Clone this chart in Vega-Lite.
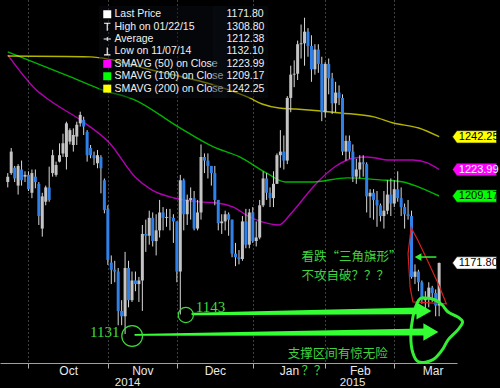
{
"$schema":"https://vega.github.io/schema/vega-lite/v6.json",
"width":457,"height":363,
"autosize":{"type":"none"},
"padding":{"left":0,"top":0,"right":43,"bottom":25},
"background":"#000000",
"config":{"view":{"fill":{"gradient":"linear","x1":0,"y1":0,"x2":0.3,"y2":1,"stops":[{"offset":0,"color":"#1e2a37"},{"offset":1,"color":"#0a0f15"}]},"stroke":null},"font":"Liberation Sans"},
"resolve":{"axis":{"x":"independent"}},
"datasets":{
"candles":[
{"d":"2014-09-22","i":0,"o":1217,"h":1222,"l":1214,"c":1220},
{"d":"2014-09-23","i":1,"o":1222,"h":1236,"l":1221,"c":1234},
{"d":"2014-09-24","i":2,"o":1225,"h":1226,"l":1217,"c":1219},
{"d":"2014-09-25","i":3,"o":1215,"h":1227,"l":1210,"c":1226},
{"d":"2014-09-26","i":4,"o":1224,"h":1229,"l":1215,"c":1218},
{"d":"2014-09-29","i":5,"o":1220,"h":1223,"l":1217,"c":1221},
{"d":"2014-09-30","i":6,"o":1221,"h":1223,"l":1212,"c":1213},
{"d":"2014-10-01","i":7,"o":1211,"h":1224,"l":1208,"c":1222},
{"d":"2014-10-02","i":8,"o":1220,"h":1224,"l":1213.5,"c":1217},
{"d":"2014-10-03","i":9,"o":1216,"h":1217,"l":1193,"c":1198},
{"d":"2014-10-06","i":10,"o":1191,"h":1211,"l":1186.5,"c":1209},
{"d":"2014-10-07","i":11,"o":1206,"h":1215,"l":1204,"c":1214},
{"d":"2014-10-08","i":12,"o":1214,"h":1225.6,"l":1206,"c":1207},
{"d":"2014-10-09","i":13,"o":1222,"h":1235,"l":1220,"c":1232},
{"d":"2014-10-10","i":14,"o":1221,"h":1228.4,"l":1220,"c":1226.5},
{"d":"2014-10-13","i":15,"o":1228.4,"h":1238.6,"l":1228,"c":1232},
{"d":"2014-10-14","i":16,"o":1233,"h":1244,"l":1231,"c":1238.6},
{"d":"2014-10-15","i":17,"o":1231,"h":1250.7,"l":1224,"c":1249.8},
{"d":"2014-10-16","i":18,"o":1239.6,"h":1247,"l":1238,"c":1246},
{"d":"2014-10-17","i":19,"o":1237.7,"h":1247,"l":1234,"c":1243.3},
{"d":"2014-10-20","i":20,"o":1242.4,"h":1250.7,"l":1237.7,"c":1249},
{"d":"2014-10-21","i":21,"o":1249.8,"h":1256.3,"l":1248,"c":1254.5},
{"d":"2014-10-22","i":22,"o":1251.7,"h":1253.5,"l":1243.3,"c":1248},
{"d":"2014-10-23","i":23,"o":1245,"h":1246,"l":1228.4,"c":1232},
{"d":"2014-10-24","i":24,"o":1236,"h":1237.7,"l":1230.3,"c":1232},
{"d":"2014-10-27","i":25,"o":1232,"h":1234,"l":1226.5,"c":1230.3},
{"d":"2014-10-28","i":26,"o":1227.5,"h":1234.9,"l":1224.7,"c":1232},
{"d":"2014-10-29","i":27,"o":1231,"h":1232,"l":1210.7,"c":1224.7},
{"d":"2014-10-30","i":28,"o":1218,"h":1219,"l":1199.5,"c":1201.4},
{"d":"2014-10-31","i":29,"o":1202,"h":1204,"l":1170.7,"c":1173.5},
{"d":"2014-11-03","i":30,"o":1172,"h":1176,"l":1160,"c":1168},
{"d":"2014-11-04","i":31,"o":1168,"h":1173,"l":1161,"c":1167},
{"d":"2014-11-05","i":32,"o":1167,"h":1169,"l":1137,"c":1145},
{"d":"2014-11-06","i":33,"o":1145,"h":1151,"l":1137,"c":1142},
{"d":"2014-11-07","i":34,"o":1142,"h":1178,"l":1132.1,"c":1169},
{"d":"2014-11-10","i":35,"o":1169,"h":1173,"l":1147,"c":1151},
{"d":"2014-11-11","i":36,"o":1151,"h":1167,"l":1150,"c":1162},
{"d":"2014-11-12","i":37,"o":1162,"h":1167,"l":1156,"c":1160},
{"d":"2014-11-13","i":38,"o":1160,"h":1164,"l":1150,"c":1162},
{"d":"2014-11-14","i":39,"o":1162,"h":1193,"l":1145,"c":1188},
{"d":"2014-11-17","i":40,"o":1188,"h":1196,"l":1178,"c":1187},
{"d":"2014-11-18","i":41,"o":1187,"h":1201,"l":1182,"c":1197},
{"d":"2014-11-19","i":42,"o":1197,"h":1200,"l":1181,"c":1184},
{"d":"2014-11-20","i":43,"o":1184,"h":1199,"l":1176,"c":1190},
{"d":"2014-11-21","i":44,"o":1190,"h":1207,"l":1186,"c":1200},
{"d":"2014-11-24","i":45,"o":1200,"h":1203,"l":1190,"c":1197},
{"d":"2014-11-25","i":46,"o":1197,"h":1202,"l":1192,"c":1197.5},
{"d":"2014-11-26","i":47,"o":1197.5,"h":1202,"l":1190,"c":1197},
{"d":"2014-11-27","i":48,"o":1197,"h":1199,"l":1183,"c":1195},
{"d":"2014-11-28","i":49,"o":1195,"h":1195,"l":1161,"c":1167},
{"d":"2014-12-01","i":50,"o":1167,"h":1221,"l":1143,"c":1218},
{"d":"2014-12-02","i":51,"o":1218,"h":1219,"l":1190,"c":1199},
{"d":"2014-12-03","i":52,"o":1199,"h":1210,"l":1193,"c":1207},
{"d":"2014-12-04","i":53,"o":1207,"h":1214,"l":1196,"c":1208},
{"d":"2014-12-05","i":54,"o":1208,"h":1212,"l":1190,"c":1191},
{"d":"2014-12-08","i":55,"o":1191,"h":1207,"l":1190,"c":1200},
{"d":"2014-12-09","i":56,"o":1200,"h":1238,"l":1196,"c":1231},
{"d":"2014-12-10","i":57,"o":1231,"h":1233,"l":1222,"c":1229},
{"d":"2014-12-11","i":58,"o":1229,"h":1233,"l":1219,"c":1226},
{"d":"2014-12-12","i":59,"o":1226,"h":1226,"l":1215,"c":1222},
{"d":"2014-12-15","i":60,"o":1222,"h":1226,"l":1204,"c":1207},
{"d":"2014-12-16","i":61,"o":1207,"h":1207,"l":1190,"c":1194},
{"d":"2014-12-17","i":62,"o":1194,"h":1199,"l":1188,"c":1195},
{"d":"2014-12-18","i":63,"o":1195,"h":1201,"l":1190,"c":1199},
{"d":"2014-12-19","i":64,"o":1199,"h":1200,"l":1187,"c":1196},
{"d":"2014-12-22","i":65,"o":1196,"h":1196,"l":1175,"c":1177},
{"d":"2014-12-23","i":66,"o":1177,"h":1183,"l":1170,"c":1175},
{"d":"2014-12-24","i":67,"o":1175,"h":1179,"l":1171,"c":1174},
{"d":"2014-12-26","i":68,"o":1174,"h":1198,"l":1173,"c":1195},
{"d":"2014-12-29","i":69,"o":1195,"h":1202,"l":1180,"c":1182},
{"d":"2014-12-30","i":70,"o":1182,"h":1202,"l":1180,"c":1200},
{"d":"2014-12-31","i":71,"o":1200,"h":1203,"l":1183,"c":1184},
{"d":"2015-01-02","i":72,"o":1184,"h":1195,"l":1181,"c":1186},
{"d":"2015-01-05","i":73,"o":1186,"h":1207,"l":1185,"c":1204},
{"d":"2015-01-06","i":74,"o":1204,"h":1223,"l":1203,"c":1219},
{"d":"2015-01-07","i":75,"o":1219,"h":1222,"l":1207,"c":1211},
{"d":"2015-01-08","i":76,"o":1211,"h":1214,"l":1203,"c":1208},
{"d":"2015-01-09","i":77,"o":1208,"h":1223,"l":1203,"c":1216},
{"d":"2015-01-12","i":78,"o":1216,"h":1233,"l":1216,"c":1232},
{"d":"2015-01-13","i":79,"o":1232,"h":1246,"l":1225,"c":1234},
{"d":"2015-01-14","i":80,"o":1234,"h":1243,"l":1224,"c":1229},
{"d":"2015-01-15","i":81,"o":1229,"h":1265,"l":1227,"c":1264},
{"d":"2015-01-16","i":82,"o":1264,"h":1282,"l":1256,"c":1277},
{"d":"2015-01-19","i":83,"o":1277,"h":1285,"l":1270,"c":1277.5},
{"d":"2015-01-20","i":84,"o":1277.5,"h":1296,"l":1274,"c":1294},
{"d":"2015-01-21","i":85,"o":1294,"h":1305,"l":1286,"c":1294.5},
{"d":"2015-01-22","i":86,"o":1294.5,"h":1308.8,"l":1282,"c":1301},
{"d":"2015-01-23","i":87,"o":1301,"h":1303,"l":1287,"c":1293},
{"d":"2015-01-26","i":88,"o":1293,"h":1299,"l":1273,"c":1280},
{"d":"2015-01-27","i":89,"o":1280,"h":1294,"l":1277,"c":1291},
{"d":"2015-01-28","i":90,"o":1291,"h":1294,"l":1278,"c":1283},
{"d":"2015-01-29","i":91,"o":1283,"h":1287,"l":1251,"c":1256},
{"d":"2015-01-30","i":92,"o":1256,"h":1284,"l":1253,"c":1283},
{"d":"2015-02-02","i":93,"o":1283,"h":1286,"l":1266,"c":1275},
{"d":"2015-02-03","i":94,"o":1275,"h":1278,"l":1255,"c":1261},
{"d":"2015-02-04","i":95,"o":1261,"h":1273,"l":1256,"c":1267},
{"d":"2015-02-05","i":96,"o":1267,"h":1271,"l":1260,"c":1264},
{"d":"2015-02-06","i":97,"o":1264,"h":1266,"l":1232,"c":1234},
{"d":"2015-02-09","i":98,"o":1234,"h":1243,"l":1229,"c":1240},
{"d":"2015-02-10","i":99,"o":1240,"h":1243,"l":1230,"c":1234},
{"d":"2015-02-11","i":100,"o":1234,"h":1238,"l":1217,"c":1220},
{"d":"2015-02-12","i":101,"o":1220,"h":1230,"l":1216,"c":1224},
{"d":"2015-02-13","i":102,"o":1224,"h":1232,"l":1219,"c":1228},
{"d":"2015-02-16","i":103,"o":1228,"h":1232,"l":1220,"c":1227},
{"d":"2015-02-17","i":104,"o":1227,"h":1228,"l":1200,"c":1209},
{"d":"2015-02-18","i":105,"o":1209,"h":1213,"l":1197,"c":1211},
{"d":"2015-02-19","i":106,"o":1211,"h":1213,"l":1196,"c":1207},
{"d":"2015-02-20","i":107,"o":1207,"h":1212,"l":1192,"c":1204},
{"d":"2015-02-23","i":108,"o":1204,"h":1205,"l":1195,"c":1198},
{"d":"2015-02-24","i":109,"o":1198,"h":1212,"l":1191,"c":1201},
{"d":"2015-02-25","i":110,"o":1201,"h":1218,"l":1199,"c":1210},
{"d":"2015-02-26","i":111,"o":1210,"h":1219,"l":1198,"c":1205},
{"d":"2015-02-27","i":112,"o":1205,"h":1218,"l":1203,"c":1213},
{"d":"2015-03-02","i":113,"o":1213,"h":1223,"l":1206,"c":1208},
{"d":"2015-03-03","i":114,"o":1208,"h":1214,"l":1198,"c":1203},
{"d":"2015-03-04","i":115,"o":1203,"h":1205,"l":1191,"c":1199},
{"d":"2015-03-05","i":116,"o":1199,"h":1207,"l":1196,"c":1198},
{"d":"2015-03-06","i":117,"o":1198,"h":1201,"l":1163,"c":1164},
{"d":"2015-03-09","i":118,"o":1164,"h":1171,"l":1160,"c":1167},
{"d":"2015-03-10","i":119,"o":1167,"h":1168,"l":1156,"c":1161},
{"d":"2015-03-11","i":120,"o":1161,"h":1162,"l":1149,"c":1151},
{"d":"2015-03-12","i":121,"o":1151,"h":1156,"l":1146,"c":1152},
{"d":"2015-03-13","i":122,"o":1152,"h":1161,"l":1147,"c":1158},
{"d":"2015-03-16","i":123,"o":1158,"h":1159,"l":1150,"c":1155},
{"d":"2015-03-17","i":124,"o":1155,"h":1157,"l":1142,"c":1148},
{"d":"2015-03-18","i":125,"o":1148,"h":1172,"l":1142,"c":1171.8}
],
"sma":[
{"name":"SMAVG (50) on Close","i":0,"v":1288},
{"name":"SMAVG (50) on Close","i":8.3,"v":1268.4},
{"name":"SMAVG (50) on Close","i":12,"v":1262.8},
{"name":"SMAVG (50) on Close","i":21.9,"v":1250.6},
{"name":"SMAVG (50) on Close","i":29.5,"v":1238.8},
{"name":"SMAVG (50) on Close","i":36.9,"v":1219.8},
{"name":"SMAVG (50) on Close","i":41.7,"v":1212.6},
{"name":"SMAVG (50) on Close","i":48.2,"v":1208.1},
{"name":"SMAVG (50) on Close","i":55.9,"v":1205.9},
{"name":"SMAVG (50) on Close","i":60.7,"v":1205.3},
{"name":"SMAVG (50) on Close","i":65.2,"v":1203.1},
{"name":"SMAVG (50) on Close","i":70.1,"v":1197.5},
{"name":"SMAVG (50) on Close","i":73.7,"v":1194.7},
{"name":"SMAVG (50) on Close","i":78.6,"v":1193.0},
{"name":"SMAVG (50) on Close","i":82.2,"v":1199.7},
{"name":"SMAVG (50) on Close","i":89.0,"v":1215.4},
{"name":"SMAVG (50) on Close","i":94.7,"v":1225.4},
{"name":"SMAVG (50) on Close","i":100.4,"v":1230.4},
{"name":"SMAVG (50) on Close","i":104.1,"v":1231.0},
{"name":"SMAVG (50) on Close","i":110.6,"v":1229.3},
{"name":"SMAVG (50) on Close","i":117.4,"v":1229.3},
{"name":"SMAVG (50) on Close","i":121.6,"v":1227.7},
{"name":"SMAVG (50) on Close","i":125,"v":1224.0},
{"name":"SMAVG (100) on Close","i":0,"v":1289.7},
{"name":"SMAVG (100) on Close","i":18.2,"v":1275.7},
{"name":"SMAVG (100) on Close","i":27.5,"v":1268.4},
{"name":"SMAVG (100) on Close","i":36.9,"v":1262.8},
{"name":"SMAVG (100) on Close","i":49.4,"v":1247.8},
{"name":"SMAVG (100) on Close","i":59.6,"v":1236.6},
{"name":"SMAVG (100) on Close","i":67.2,"v":1231.0},
{"name":"SMAVG (100) on Close","i":74.9,"v":1222.1},
{"name":"SMAVG (100) on Close","i":80.5,"v":1217.0},
{"name":"SMAVG (100) on Close","i":87.9,"v":1217.0},
{"name":"SMAVG (100) on Close","i":98.4,"v":1219.3},
{"name":"SMAVG (100) on Close","i":107.8,"v":1218.2},
{"name":"SMAVG (100) on Close","i":114.6,"v":1217.0},
{"name":"SMAVG (100) on Close","i":119.1,"v":1214.2},
{"name":"SMAVG (100) on Close","i":125,"v":1209.2},
{"name":"SMAVG (200) on Close","i":0,"v":1287.4},
{"name":"SMAVG (200) on Close","i":23.9,"v":1286.9},
{"name":"SMAVG (200) on Close","i":41.7,"v":1279.6},
{"name":"SMAVG (200) on Close","i":61.6,"v":1270.1},
{"name":"SMAVG (200) on Close","i":70.1,"v":1264.0},
{"name":"SMAVG (200) on Close","i":73.7,"v":1260.6},
{"name":"SMAVG (200) on Close","i":78.6,"v":1258.4},
{"name":"SMAVG (200) on Close","i":83.4,"v":1257.8},
{"name":"SMAVG (200) on Close","i":96.4,"v":1255.6},
{"name":"SMAVG (200) on Close","i":106.1,"v":1253.4},
{"name":"SMAVG (200) on Close","i":111.7,"v":1250.0},
{"name":"SMAVG (200) on Close","i":119.1,"v":1247.2},
{"name":"SMAVG (200) on Close","i":125,"v":1242.3}
],
"loop":[
{"k":0,"i":119.1,"p":1151.1},{"k":1,"i":117.4,"p":1141.6},{"k":2,"i":116.8,"p":1130.4},{"k":3,"i":117.4,"p":1121.5},
{"k":4,"i":119.1,"p":1116.5},{"k":5,"i":123.1,"p":1117.6},{"k":6,"i":125.9,"p":1123.2},{"k":7,"i":127.6,"p":1128.8},
{"k":8,"i":130.4,"p":1134.4},{"k":9,"i":131.8,"p":1138.8},{"k":10,"i":130.4,"p":1141.6},{"k":11,"i":127.6,"p":1144.4},
{"k":12,"i":125.9,"p":1148.3},{"k":13,"i":123.9,"p":1151.1},{"k":14,"i":121.1,"p":1152.2}
],
"pennant":[
{"k":0,"i":116.9,"p":1191.5},{"k":1,"i":116.0,"p":1177},{"k":2,"i":116.6,"p":1158},{"k":3,"i":117.4,"p":1150},
{"k":4,"i":127.1,"p":1149},{"k":5,"i":124.9,"p":1159.5},{"k":6,"i":121.8,"p":1172.5},{"k":7,"i":118.8,"p":1184.6}
],
"arrows":[
{"a":"low","i":36.9,"p":1131.6},{"a":"low","i":120.5,"p":1133.2},
{"a":"high","i":53.6,"p":1143.3},{"a":"high","i":118.8,"p":1145.0}
],
"heads":[{"i":122.6,"p":1133.2},{"i":120.6,"p":1145.0}],
"notes":[
{"t":"看跌“三角旗形”","i":85.1,"p":1175.3},
{"t":"不攻自破？？？","i":85.1,"p":1164.7},
{"t":"支撑区间有惊无险","i":81.1,"p":1121.2},
{"t":"？？","i":85.1,"p":1111.3}
],
"tags":[
{"name":"SMAVG (200) on Close","v":1242.25,"label":"1242.25"},
{"name":"SMAVG (50) on Close","v":1223.99,"label":"1223.99"},
{"name":"SMAVG (100) on Close","v":1209.17,"label":"1209.17"},
{"name":"Last Price","v":1171.8,"label":"1171.80"}
],
"legendrows":[
{"name":"Last Price","val":"1171.80"},
{"name":"High on 01/22/15","val":"1308.80"},
{"name":"Average","val":"1212.38"},
{"name":"Low on 11/07/14","val":"1132.10"},
{"name":"SMAVG (50) on Close","val":"1223.99"},
{"name":"SMAVG (100) on Close","val":"1209.17"},
{"name":"SMAVG (200) on Close","val":"1242.25"}
]
},
"layer":[
{"data":{"name":"sma"},
 "mark":{"type":"line","interpolate":"monotone","strokeWidth":1.4,"opacity":0.7},
 "encoding":{
  "x":{"field":"i","type":"quantitative","scale":{"domain":[-0.8,128.73],"nice":false,"zero":false},
       "axis":{"orient":"bottom","values":[17.5,39,60,81.5,102,123.1],"labelExpr":"datum.value < 25 ? 'Oct' : datum.value < 50 ? 'Nov' : datum.value < 70 ? 'Dec' : datum.value < 90 ? 'Jan' : datum.value < 110 ? 'Feb' : 'Mar'","domain":false,"ticks":false,"grid":false,"labelColor":"#e8e8e8","labelFontSize":12,"labelFont":"Liberation Sans","labelPadding":2,"title":null}},
  "y":{"field":"v","type":"quantitative","scale":{"domain":[1115.9,1318.7],"nice":false,"zero":false},"axis":null},
  "color":{"field":"name","type":"nominal","scale":{"domain":["Last Price","SMAVG (50) on Close","SMAVG (100) on Close","SMAVG (200) on Close"],"range":["#ffffff","#ff00ff","#00ff00","#ffff00"]},"legend":null}
 }},
{"data":{"name":"candles"},
 "mark":{"type":"rule","color":"#d8d8d8","strokeWidth":1},
 "encoding":{
  "x":{"field":"i","type":"quantitative","scale":{"domain":[-0.8,128.73],"nice":false,"zero":false},
       "axis":{"orient":"bottom","values":[6,29,49,71,92,112],"grid":true,"gridColor":"#b0b6bd","gridDash":[1,3],"gridOpacity":0.7,"labels":false,"ticks":true,"tickSize":5,"tickColor":"#b0b0b0","domainColor":"#a0a0a0","title":null}},
  "y":{"field":"l","type":"quantitative","scale":{"domain":[1115.9,1318.7],"nice":false,"zero":false},
       "axis":{"orient":"right","values":[1125,1150,1175,1200,1225,1250,1275,1300],"labelExpr":"datum.value % 50 === 0 ? datum.label : ''","format":"d","grid":true,"gridColor":"#b0b6bd","gridDash":[1,3],"gridOpacity":{"condition":{"test":"datum.value % 50 === 0","value":0.7},"value":0},"tickSize":{"condition":{"test":"datum.value % 50 === 0","value":6},"value":3},"tickWidth":{"condition":{"test":"datum.value % 50 === 0","value":2},"value":1},"tickColor":"#e0e0e0","domainColor":"#a0a0a0","labelColor":"#ffffff","labelFontSize":12,"labelFont":"Liberation Sans","labelPadding":2,"title":null}},
  "y2":{"field":"h"}
 }},
{"data":{"name":"candles"},
 "mark":{"type":"bar","size":3},
 "encoding":{
  "x":{"field":"i","type":"quantitative","scale":{"domain":[-0.8,128.73],"nice":false,"zero":false},"axis":null},
  "y":{"field":"o","type":"quantitative","scale":{"domain":[1115.9,1318.7],"nice":false,"zero":false},"axis":null},
  "y2":{"field":"c"},
  "color":{"condition":{"test":"datum.c >= datum.o","value":"#c4c4c4"},"value":"#2f80e8"}
 }},
{"data":{"name":"pennant"},
 "mark":{"type":"line","interpolate":"linear-closed","color":"#d42020","strokeWidth":1.2,"clip":false},
 "encoding":{
  "x":{"field":"i","type":"quantitative","scale":{"domain":[-0.8,128.73],"nice":false,"zero":false},"axis":null},
  "y":{"field":"p","type":"quantitative","scale":{"domain":[1115.9,1318.7],"nice":false,"zero":false},"axis":null},
  "order":{"field":"k","type":"quantitative"}
 }},
{"data":{"name":"loop"},
 "mark":{"type":"line","interpolate":"cardinal-closed","color":"#33ee33","strokeWidth":3,"clip":false},
 "encoding":{
  "x":{"field":"i","type":"quantitative","scale":{"domain":[-0.8,128.73],"nice":false,"zero":false},"axis":null},
  "y":{"field":"p","type":"quantitative","scale":{"domain":[1115.9,1318.7],"nice":false,"zero":false},"axis":null},
  "order":{"field":"k","type":"quantitative"}
 }},
{"data":{"name":"arrows"},
 "mark":{"type":"trail","color":"#33ff33","clip":false},
 "encoding":{
  "x":{"field":"i","type":"quantitative","scale":{"domain":[-0.8,128.73],"nice":false,"zero":false},"axis":null},
  "y":{"field":"p","type":"quantitative","scale":{"domain":[1115.9,1318.7],"nice":false,"zero":false},"axis":null},
  "detail":{"field":"a"},
  "size":{"field":"i","type":"quantitative","scale":{"domain":[36,121],"range":[1.5,7]},"legend":null}
 }},
{"data":{"name":"heads"},
 "mark":{"type":"point","shape":"triangle-right","filled":true,"size":300,"color":"#33ff33","opacity":1,"clip":false},
 "encoding":{
  "x":{"field":"i","type":"quantitative","scale":{"domain":[-0.8,128.73],"nice":false,"zero":false},"axis":null},
  "y":{"field":"p","type":"quantitative","scale":{"domain":[1115.9,1318.7],"nice":false,"zero":false},"axis":null}
 }},
{"data":{"values":[{"i":124.2,"i2":119.5,"p":1175.1}]},
 "mark":{"type":"rule","color":"#33ee33","strokeWidth":1.5},
 "encoding":{
  "x":{"field":"i","type":"quantitative","scale":{"domain":[-0.8,128.73],"nice":false,"zero":false},"axis":null},
  "x2":{"field":"i2"},
  "y":{"field":"p","type":"quantitative","scale":{"domain":[1115.9,1318.7],"nice":false,"zero":false},"axis":null}
 }},
{"data":{"values":[{"i":118.9,"p":1175.1}]},
 "mark":{"type":"point","shape":"triangle-left","filled":true,"size":60,"color":"#33ee33","opacity":1},
 "encoding":{
  "x":{"field":"i","type":"quantitative","scale":{"domain":[-0.8,128.73],"nice":false,"zero":false},"axis":null},
  "y":{"field":"p","type":"quantitative","scale":{"domain":[1115.9,1318.7],"nice":false,"zero":false},"axis":null}
 }},
{"data":{"values":[{"i":36.05,"p":1131.0}]},
 "mark":{"type":"point","shape":"circle","filled":false,"size":430,"color":"#3ddc3d","strokeWidth":1.2,"opacity":1},
 "encoding":{
  "x":{"field":"i","type":"quantitative","scale":{"domain":[-0.8,128.73],"nice":false,"zero":false},"axis":null},
  "y":{"field":"p","type":"quantitative","scale":{"domain":[1115.9,1318.7],"nice":false,"zero":false},"axis":null}
 }},
{"data":{"values":[{"i":51.6,"p":1142.7}]},
 "mark":{"type":"point","shape":"circle","filled":false,"size":230,"color":"#3ddc3d","strokeWidth":1.2,"opacity":1},
 "encoding":{
  "x":{"field":"i","type":"quantitative","scale":{"domain":[-0.8,128.73],"nice":false,"zero":false},"axis":null},
  "y":{"field":"p","type":"quantitative","scale":{"domain":[1115.9,1318.7],"nice":false,"zero":false},"axis":null}
 }},
{"data":{"values":[{"t":"1131","i":32.4,"p":1133.2}]},
 "mark":{"type":"text","align":"right","baseline":"middle","font":"Liberation Serif","fontSize":15,"color":"#3ddc3d"},
 "encoding":{
  "x":{"field":"i","type":"quantitative","scale":{"domain":[-0.8,128.73],"nice":false,"zero":false},"axis":null},
  "y":{"field":"p","type":"quantitative","scale":{"domain":[1115.9,1318.7],"nice":false,"zero":false},"axis":null},
  "text":{"field":"t"}
 }},
{"data":{"values":[{"t":"1143","i":54.5,"p":1147.2}]},
 "mark":{"type":"text","align":"left","baseline":"middle","font":"Liberation Serif","fontSize":15,"color":"#3ddc3d"},
 "encoding":{
  "x":{"field":"i","type":"quantitative","scale":{"domain":[-0.8,128.73],"nice":false,"zero":false},"axis":null},
  "y":{"field":"p","type":"quantitative","scale":{"domain":[1115.9,1318.7],"nice":false,"zero":false},"axis":null},
  "text":{"field":"t"}
 }},
{"data":{"name":"notes"},
 "mark":{"type":"text","align":"left","baseline":"middle","font":"Noto Sans CJK SC","fontSize":12.5,"color":"#3fd43f","clip":false},
 "encoding":{
  "x":{"field":"i","type":"quantitative","scale":{"domain":[-0.8,128.73],"nice":false,"zero":false},
       "axis":{"orient":"bottom","values":[34.6,99.8],"labelExpr":"datum.value < 60 ? '2014' : '2015'","domain":false,"ticks":false,"grid":false,"labelColor":"#e8e8e8","labelFontSize":11.5,"labelFont":"Liberation Sans","labelPadding":13,"title":null}},
  "y":{"field":"p","type":"quantitative","scale":{"domain":[1115.9,1318.7],"nice":false,"zero":false},"axis":null},
  "text":{"field":"t"}
 }},
{"data":{"name":"tags"},
 "mark":{"type":"point","filled":true,"size":1936,"shape":"M -1 0 L -0.8 -0.28 L 1 -0.28 L 1 0.28 L -0.8 0.28 Z","stroke":"#222222","strokeWidth":0.6,"opacity":1,"clip":false},
 "encoding":{
  "x":{"datum":135.25,"type":"quantitative","scale":{"domain":[-0.8,128.73],"nice":false,"zero":false},"axis":null},
  "y":{"field":"v","type":"quantitative","scale":{"domain":[1115.9,1318.7],"nice":false,"zero":false},"axis":null},
  "color":{"field":"name","type":"nominal","scale":{"domain":["Last Price","SMAVG (50) on Close","SMAVG (100) on Close","SMAVG (200) on Close"],"range":["#ffffff","#ff00ff","#00ff00","#ffff00"]},"legend":null}
 }},
{"data":{"name":"tags"},
 "mark":{"type":"text","align":"left","baseline":"middle","font":"Liberation Sans","fontSize":11,"clip":false},
 "encoding":{
  "x":{"datum":130.7,"type":"quantitative","scale":{"domain":[-0.8,128.73],"nice":false,"zero":false},"axis":null},
  "y":{"field":"v","type":"quantitative","scale":{"domain":[1115.9,1318.7],"nice":false,"zero":false},"axis":null},
  "text":{"field":"label"},
  "color":{"condition":{"test":"datum.name === 'SMAVG (50) on Close'","value":"#ffffff"},"value":"#000000"}
 }},
{"data":{"name":"legendrows"},
 "mark":{"type":"point","filled":true,"size":0,"opacity":1},
 "encoding":{
  "fill":{"field":"name","type":"nominal","scale":{"domain":["Last Price","High on 01/22/15","Average","Low on 11/07/14","SMAVG (50) on Close","SMAVG (100) on Close","SMAVG (200) on Close"],"range":["#ffffff","#ffffff","#ffffff","#ffffff","#ff00ff","#00ff00","#ffff00"]},
   "legend":{"orient":"none","legendX":99,"legendY":6,"title":null,"symbolSize":64,"symbolOpacity":1,"symbolStrokeWidth":0,"labelFontSize":10.5,"labelColor":"#f0f0f0","labelFont":"Liberation Sans","rowPadding":1.4,"labelOffset":2,"padding":3,"fillColor":"rgba(8,14,20,0.45)","labelLimit":200}},
  "shape":{"field":"name","type":"nominal","scale":{"domain":["Last Price","High on 01/22/15","Average","Low on 11/07/14","SMAVG (50) on Close","SMAVG (100) on Close","SMAVG (200) on Close"],"range":["square","M -0.8 -1 L 0.8 -1 L 0.8 -0.72 L 0.14 -0.72 L 0.14 1 L -0.14 1 L -0.14 -0.72 L -0.8 -0.72 Z","M -0.9 -0.12 L 0.9 -0.12 L 0.9 0.12 L -0.9 0.12 Z M -0.12 -0.5 L 0.12 -0.5 L 0.12 0.5 L -0.12 0.5 Z","M -0.14 -1 L 0.14 -1 L 0.14 0.72 L 0.8 0.72 L 0.8 1 L -0.8 1 L -0.8 0.72 L -0.14 0.72 Z","square","square","square"]}},
  "opacity":{"field":"val","type":"ordinal","scale":{"domain":["1171.80","1308.80","1212.38","1132.10","1223.99","1209.17","1242.25"],"range":[1,1]},
   "legend":{"orient":"none","legendX":213,"legendY":6,"title":null,"symbolSize":0,"symbolOpacity":0,"labelFontSize":10.5,"labelColor":"#f0f0f0","labelFont":"Liberation Sans","rowPadding":1.4,"labelOffset":0,"padding":3,"fillColor":"rgba(8,14,20,0.45)"}}
 }}
]
}
